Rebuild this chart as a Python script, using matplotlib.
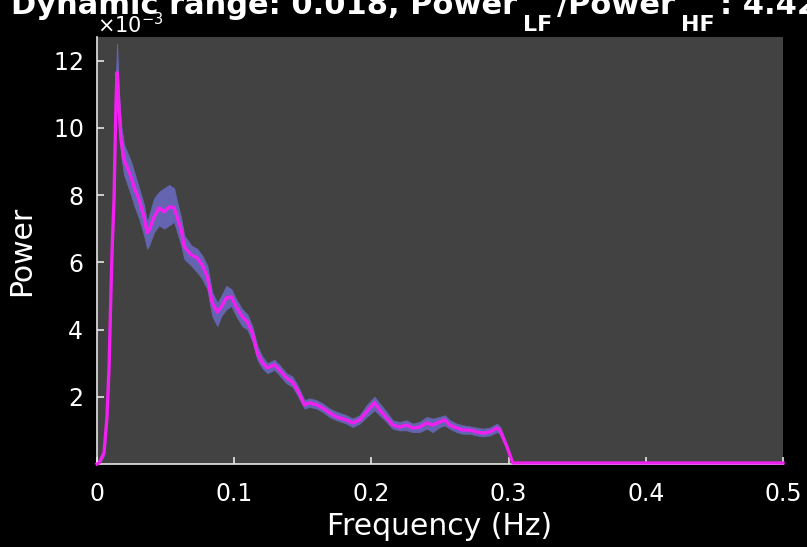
import matplotlib
matplotlib.use("Agg")
import matplotlib.pyplot as plt
from matplotlib.ticker import ScalarFormatter

# ---- data (power in units of 1e-3) ----
freq = [0.0000, 0.0015, 0.0051, 0.0073, 0.0088, 0.0102, 0.0110, 0.0124, 0.0131, 0.0139,
        0.0146, 0.0161, 0.0175, 0.0197, 0.0248, 0.0270, 0.0307, 0.0343, 0.0365, 0.0380,
        0.0416, 0.0453, 0.0489, 0.0526, 0.0562, 0.0584, 0.0614, 0.0636, 0.0687, 0.0730,
        0.0767, 0.0804, 0.0840, 0.0877, 0.0906, 0.0942, 0.0979, 0.1015, 0.1059, 0.1096,
        0.1132, 0.1169, 0.1205, 0.1242, 0.1293, 0.1329, 0.1381, 0.1424, 0.1461, 0.1512,
        0.1549, 0.1600, 0.1644, 0.1695, 0.1746, 0.1819, 0.1863, 0.1914, 0.1965, 0.2023,
        0.2060, 0.2111, 0.2155, 0.2206, 0.2257, 0.2301, 0.2352, 0.2403, 0.2447, 0.2498,
        0.2535, 0.2571, 0.2622, 0.2666, 0.2717, 0.2768, 0.2812, 0.2863, 0.2915, 0.2936,
        0.2958, 0.2988, 0.3009, 0.3031, 0.5000]
power_mean = [0.00, 0.03, 0.33, 1.40, 2.89, 5.18, 6.37, 7.86, 9.35, 10.83,
              11.64, 10.54, 9.64, 9.05, 8.54, 8.24, 7.86, 7.35, 6.88, 6.96,
              7.35, 7.62, 7.50, 7.65, 7.62, 7.35, 6.96, 6.46, 6.22, 6.13,
              5.92, 5.57, 4.79, 4.52, 4.67, 4.94, 4.97, 4.67, 4.38, 4.23,
              3.90, 3.30, 3.01, 2.86, 2.95, 2.80, 2.56, 2.44, 2.20, 1.76,
              1.82, 1.76, 1.67, 1.52, 1.40, 1.31, 1.22, 1.31, 1.55, 1.82,
              1.61, 1.37, 1.16, 1.10, 1.16, 1.07, 1.10, 1.22, 1.16, 1.25,
              1.31, 1.16, 1.07, 1.01, 1.01, 0.95, 0.92, 0.95, 1.07, 1.01,
              0.80, 0.51, 0.27, 0.03, 0.03]
power_low = [0.00, 0.00, 0.25, 1.30, 2.75, 5.00, 6.15, 7.60, 9.00, 10.40,
             11.20, 10.10, 9.20, 8.60, 8.00, 7.70, 7.30, 6.80, 6.40, 6.50,
             6.90, 7.10, 7.00, 7.10, 7.20, 6.90, 6.50, 6.10, 5.90, 5.70,
             5.50, 5.20, 4.40, 4.10, 4.40, 4.60, 4.70, 4.40, 4.10, 4.00,
             3.65, 3.10, 2.85, 2.70, 2.80, 2.65, 2.40, 2.30, 2.05, 1.65,
             1.70, 1.65, 1.55, 1.40, 1.30, 1.20, 1.10, 1.20, 1.40, 1.60,
             1.45, 1.25, 1.05, 1.00, 1.00, 0.95, 0.95, 1.05, 0.95, 1.10,
             1.15, 1.05, 0.95, 0.90, 0.90, 0.85, 0.82, 0.85, 0.95, 0.90,
             0.70, 0.45, 0.22, 0.00, 0.00]
power_high = [0.00, 0.05, 0.40, 1.50, 3.05, 5.40, 6.60, 8.20, 9.80, 11.60,
              12.50, 11.00, 10.10, 9.50, 9.00, 8.70, 8.20, 7.70, 7.20, 7.40,
              7.90, 8.10, 8.20, 8.30, 8.20, 7.80, 7.30, 6.80, 6.50, 6.40,
              6.20, 5.90, 5.10, 4.80, 5.00, 5.30, 5.20, 4.90, 4.60, 4.45,
              4.10, 3.50, 3.20, 3.00, 3.10, 2.95, 2.70, 2.60, 2.35, 1.90,
              1.95, 1.90, 1.80, 1.65, 1.55, 1.45, 1.35, 1.45, 1.75, 2.00,
              1.80, 1.55, 1.30, 1.25, 1.30, 1.20, 1.25, 1.40, 1.35, 1.40,
              1.45, 1.30, 1.20, 1.15, 1.12, 1.08, 1.05, 1.08, 1.20, 1.12,
              0.90, 0.58, 0.32, 0.05, 0.05]
scale = 1e-3
ytick_vals = [2, 4, 6, 8, 10, 12]
xtick_vals = [0, 0.1, 0.2, 0.3, 0.4, 0.5]
xtick_labels = ["0", "0.1", "0.2", "0.3", "0.4", "0.5"]
# title pieces: (text, is_subscript)
title_pieces = [("Dynamic range: 0.018, Power", False), ("LF", True),
                ("/Power", False), ("HF", True), (": 4.42", False)]

W, H = 807, 547
fig = plt.figure(figsize=(W / 100, H / 100), dpi=100, facecolor="black")
ax = fig.add_axes([97 / W, 1 - 464 / H, (783 - 97) / W, (464 - 37) / H])
ax.set_facecolor("#424242")

lo = [v * scale for v in power_low]
hi = [v * scale for v in power_high]
mn = [v * scale for v in power_mean]
ax.fill_between(freq, lo, hi, color="#6464b0", linewidth=0.6, edgecolor="#6464b0", zorder=2)
ax.plot(freq, mn, color="#f020f0", linewidth=2.4, zorder=5, clip_on=False)

ax.set_xlim(0, 0.5)
ax.set_ylim(0, 12.7e-3)
ax.set_xticks(xtick_vals)
ax.set_xticklabels(xtick_labels)
ax.set_yticks([v * scale for v in ytick_vals])
fmt = ScalarFormatter(useMathText=True)
fmt.set_powerlimits((-3, -3))
ax.yaxis.set_major_formatter(fmt)

for s in ["top", "right"]:
    ax.spines[s].set_visible(False)
for s in ["left", "bottom"]:
    ax.spines[s].set_color("#e6e6e6")
    ax.spines[s].set_linewidth(1.2)

ax.tick_params(direction="in", length=5, width=1.2, color="#e6e6e6",
               labelcolor="white", labelsize=17)
ax.tick_params(axis="x", pad=13)
ax.tick_params(axis="y", pad=10)
ax.yaxis.get_offset_text().set_color("white")
ax.yaxis.get_offset_text().set_fontsize(15)

ax.set_xlabel("Frequency (Hz)", color="white", fontsize=21.5, labelpad=4)
ax.set_ylabel("Power", color="white", fontsize=21.5, labelpad=12)

# title built from pieces so subscripts can be dropped like the original
renderer = fig.canvas.get_renderer()
x = 11.0
for txt, sub in title_pieces:
    size = 16 if sub else 22
    base = 31 if sub else 14
    t = fig.text(x / W, 1 - base / H, txt, color="white", fontsize=size,
                 fontweight="bold", ha="left", va="baseline")
    bb = t.get_window_extent(renderer)
    x = bb.x1 + (5 if sub else 6)

fig.savefig("out.png", dpi=100, facecolor="black")
